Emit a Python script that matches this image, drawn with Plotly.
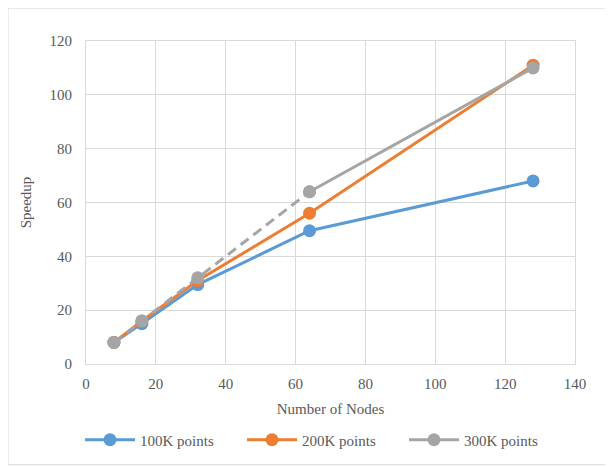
import plotly.graph_objects as go

nodes = [8, 16, 32, 64, 128]
s100 = [8, 15, 29.5, 49.5, 68]
s200 = [8, 16, 31, 56, 111]
s300 = [8, 16, 32, 64, 110]
names = ["100K points", "200K points", "300K points"]
colors = ["#5B9BD5", "#ED7D31", "#A5A5A5"]

fig = go.Figure()
fig.add_trace(go.Scatter(x=nodes, y=s100, mode="lines+markers", name=names[0],
                         line=dict(color=colors[0], width=3), marker=dict(size=13, color=colors[0])))
fig.add_trace(go.Scatter(x=nodes, y=s200, mode="lines+markers", name=names[1],
                         line=dict(color=colors[1], width=3), marker=dict(size=13, color=colors[1])))
# dashed part of 300K series (first four points)
fig.add_trace(go.Scatter(x=nodes[:4], y=s300[:4], mode="lines+markers", showlegend=False,
                         line=dict(color=colors[2], width=3, dash="10px,6px"), marker=dict(size=13, color=colors[2])))
fig.add_trace(go.Scatter(x=nodes[3:], y=s300[3:], mode="lines+markers", name=names[2],
                         line=dict(color=colors[2], width=3), marker=dict(size=13, color=colors[2])))

# page has an 8px body margin; figure coordinates are offset accordingly
OFF = 8
W, H = 613 - OFF, 467 - OFF
L, T = 86 - OFF, 41 - OFF
R = W - (575 - OFF)
B = H - (365 - OFF)
pw, ph = W - L - R, H - T - B
grey = "#595959"
fam = "Liberation Serif, Times New Roman, serif"
fig.update_layout(
    width=W, height=H,
    margin=dict(l=L, r=R, t=T, b=B),
    paper_bgcolor="white", plot_bgcolor="white",
    font=dict(family=fam, size=15, color=grey),
    xaxis=dict(range=[0, 140], dtick=20, showgrid=True, gridcolor="#D9D9D9", gridwidth=1,
               zeroline=False, showline=True, linecolor="#D9D9D9", mirror=True,
               title=dict(text="Number of Nodes", font=dict(family=fam, size=15, color=grey), standoff=12),
               ticks="outside", ticklen=6, tickcolor="rgba(0,0,0,0)", tickfont=dict(family=fam, size=15)),
    yaxis=dict(range=[0, 120], dtick=20, showgrid=True, gridcolor="#D9D9D9", gridwidth=1,
               zeroline=False, showline=True, linecolor="#D9D9D9", mirror=True,
               title=dict(text="Speedup", font=dict(family=fam, size=15, color=grey), standoff=14),
               ticks="outside", ticklen=10, tickcolor="rgba(0,0,0,0)", tickfont=dict(family=fam, size=15)),
    legend=dict(orientation="h", x=(72 - L) / pw, xanchor="left", y=(357 - 432) / ph, yanchor="middle",
                font=dict(family=fam, size=15, color=grey), itemwidth=50,
                entrywidth=97, entrywidthmode="pixels"),
    shapes=[dict(type="rect", xref="paper", yref="paper",
                 x0=(0 - L) / pw, x1=(W - 1 - L) / pw,
                 y0=(H - B - (H - 1)) / ph, y1=(H - B - 0) / ph,
                 line=dict(color="#D9D9D9", width=1), fillcolor="rgba(0,0,0,0)", layer="below")],
)
fig.write_html("out.html")
